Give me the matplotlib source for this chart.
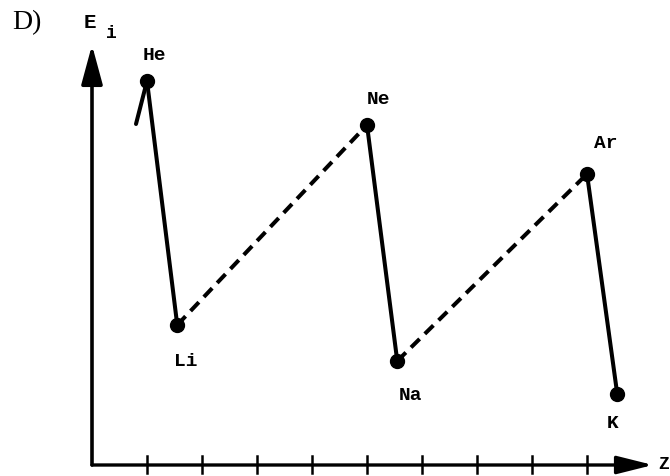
import matplotlib
matplotlib.use('Agg')
import matplotlib.pyplot as plt

# schematic ionisation energy vs Z (arbitrary units)
elements = ['He', 'Li', 'Ne', 'Na', 'Ar', 'K']
z_pos = [1.0, 1.55, 5.0, 5.55, 9.0, 9.55]
energy = [384, 140, 340, 104, 291, 71]
lead_in = ([0.8, 1.0], [341, 384])   # short stroke coming into He
ticks = [1, 2, 3, 4, 5, 6, 7, 8, 9]

label_dx = [0.13, 0.15, 0.2, 0.25, 0.35, -0.08]
label_dy = [27, -36, 26, -34, 32, -29]

fig = plt.figure(figsize=(6.7, 4.77), dpi=100)
ax = fig.add_axes([0, 0, 1, 1])
ax.set_xlim(-92 / 55.0, (670 - 92) / 55.0)
ax.set_ylim(-11, 466)
ax.axis('off')

lw = 2.9
# solid drops, dashed rises
ax.plot(lead_in[0], lead_in[1], color='black', lw=lw, solid_capstyle='round')
for i in range(0, len(z_pos), 2):
    ax.plot(z_pos[i:i + 2], energy[i:i + 2], color='black', lw=lw)
for i in range(1, len(z_pos) - 1, 2):
    ax.plot(z_pos[i:i + 2], energy[i:i + 2], color='black', lw=lw,
            dashes=(3, 1.8))
ax.plot(z_pos, energy, 'o', color='black', markersize=10, lw=0)

for name, x, y, dx, dy in zip(elements, z_pos, energy, label_dx, label_dy):
    ax.text(x + dx, y + dy, name, family='Liberation Mono', weight='bold',
            fontsize=14, ha='center', va='center')

# axes with arrows
ax.annotate('', xy=(10.2, 0), xytext=(0, 0),
            arrowprops=dict(arrowstyle='-|>,head_length=2.2,head_width=0.55',
                            color='black', lw=2.4, shrinkA=0, shrinkB=0))
ax.annotate('', xy=(0, 420), xytext=(0, 0),
            arrowprops=dict(arrowstyle='-|>,head_length=2.4,head_width=0.65',
                            color='black', lw=2.6, shrinkA=0, shrinkB=0))
for t in ticks:
    ax.plot([t, t], [-8, 9], color='black', lw=1.8)

ax.text(-0.04, 444, 'E', family='Liberation Mono', weight='bold',
        fontsize=15, ha='center', va='center')
ax.text(0.36, 432, 'i', family='Liberation Mono', weight='bold',
        fontsize=13, ha='center', va='center')
ax.text(10.49, 1, 'Z', family='Liberation Mono', weight='bold',
        fontsize=13, ha='right', va='center')
ax.text(-1.18, 443, 'D)', family='Liberation Serif', fontsize=20,
        ha='center', va='center')

fig.savefig('out.png', dpi=100)
